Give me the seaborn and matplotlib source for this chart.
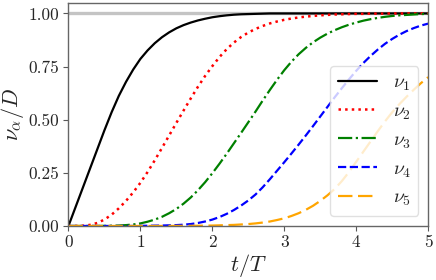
import matplotlib
matplotlib.use("Agg")
import matplotlib.pyplot as plt
import seaborn as sns
import pandas as pd

t_values = [0.0, 0.1, 0.2, 0.3, 0.4, 0.5, 0.6, 0.7, 0.8, 0.9,
            1.0, 1.1, 1.2, 1.3, 1.4, 1.5, 1.6, 1.7, 1.8, 1.9,
            2.0, 2.1, 2.2, 2.3, 2.4, 2.5, 2.6, 2.7, 2.8, 2.9,
            3.0, 3.1, 3.2, 3.3, 3.4, 3.5, 3.6, 3.7, 3.8, 3.9,
            4.0, 4.1, 4.2, 4.3, 4.4, 4.5, 4.6, 4.7, 4.8, 4.9, 5.0]
nu1 = [0.0, 0.09, 0.18, 0.27, 0.36, 0.45, 0.535, 0.612, 0.678, 0.736,
       0.786, 0.826, 0.86, 0.888, 0.911, 0.93, 0.945, 0.957, 0.967, 0.975,
       0.982, 0.987, 0.991, 0.994, 0.996, 0.997, 0.998, 0.999, 1.0, 1.0,
       1.0, 1.0, 1.0, 1.0, 1.0, 1.0, 1.0, 1.0, 1.0, 1.0,
       1.0, 1.0, 1.0, 1.0, 1.0, 1.0, 1.0, 1.0, 1.0, 1.0, 1.0]
nu2 = [0.0, 0.0, 0.001, 0.005, 0.014, 0.03, 0.053, 0.083, 0.118, 0.158,
       0.203, 0.254, 0.309, 0.367, 0.426, 0.485, 0.543, 0.6, 0.655, 0.706,
       0.752, 0.795, 0.832, 0.863, 0.889, 0.91, 0.927, 0.941, 0.953, 0.962,
       0.97, 0.976, 0.981, 0.985, 0.988, 0.991, 0.993, 0.995, 0.996, 0.997,
       0.998, 0.998, 0.999, 0.999, 0.999, 1.0, 1.0, 1.0, 1.0, 1.0, 1.0]
nu3 = [0.0, 0.0, 0.0, 0.0, 0.0, 0.0005, 0.001, 0.002, 0.004, 0.007,
       0.012, 0.02, 0.03, 0.043, 0.06, 0.08, 0.105, 0.134, 0.168, 0.206,
       0.248, 0.293, 0.34, 0.389, 0.438, 0.488, 0.538, 0.59, 0.64, 0.688,
       0.733, 0.773, 0.808, 0.838, 0.864, 0.886, 0.905, 0.921, 0.935, 0.947,
       0.957, 0.966, 0.973, 0.979, 0.984, 0.988, 0.991, 0.993, 0.995, 0.997,
       0.998]
nu4 = [0.0, 0.0, 0.0, 0.0, 0.0, 0.0, 0.0, 0.0, 0.0, 0.0,
       0.0005, 0.001, 0.0015, 0.002, 0.003, 0.004, 0.006, 0.009, 0.014, 0.021,
       0.03, 0.042, 0.057, 0.075, 0.096, 0.12, 0.148, 0.182, 0.22, 0.26,
       0.3, 0.341, 0.383, 0.426, 0.47, 0.515, 0.56, 0.605, 0.648, 0.69,
       0.73, 0.767, 0.8, 0.83, 0.857, 0.88, 0.9, 0.917, 0.931, 0.943, 0.952]
nu5 = [0.0, 0.0, 0.0, 0.0, 0.0, 0.0, 0.0, 0.0, 0.0, 0.0,
       0.0, 0.0, 0.0, 0.0, 0.0, 0.0003, 0.0005, 0.0008, 0.001, 0.0015,
       0.002, 0.003, 0.004, 0.005, 0.007, 0.009, 0.012, 0.016, 0.021, 0.028,
       0.036, 0.047, 0.06, 0.076, 0.095, 0.118, 0.144, 0.174, 0.211, 0.254,
       0.302, 0.35, 0.398, 0.446, 0.492, 0.535, 0.573, 0.608, 0.641, 0.672,
       0.70]
series_labels = [r"$\nu_1$", r"$\nu_2$", r"$\nu_3$", r"$\nu_4$", r"$\nu_5$"]
saturation_level = 1.0
x_ticks = [0, 1, 2, 3, 4, 5]
y_ticks = [0.0, 0.25, 0.5, 0.75, 1.0]
y_ticklabels = ["0.00", "0.25", "0.50", "0.75", "1.00"]

# ---- styling ----
sns.set_theme(style="ticks")
plt.rcParams["font.family"] = ["cmr10", "DejaVu Serif"]
plt.rcParams["mathtext.fontset"] = "cm"
plt.rcParams["axes.unicode_minus"] = False

colors = ["black", "red", "green", "blue", "orange"]
styles = ["-", ":", "-.", "--", (0, (6.5, 2.5))]
widths = [1.6, 1.8, 1.6, 1.6, 1.6]

fig = plt.figure(figsize=(4.36, 2.80), dpi=100)
ax = fig.add_axes([0.157, 0.193, 0.825, 0.797])

ax.axhline(saturation_level, color="#c4c4c4", lw=2.4, zorder=1)

all_series = [nu1, nu2, nu3, nu4, nu5]
for vals, lab, c, ls, lw in zip(all_series, series_labels, colors, styles, widths):
    df = pd.DataFrame({"t": t_values, "v": vals})
    sns.lineplot(data=df, x="t", y="v", ax=ax, color=c, linestyle=ls,
                 linewidth=lw, label=lab, zorder=2)

ax.set_xlim(0, 5)
ax.set_ylim(0, 1.05)
ax.set_xticks(x_ticks)
ax.set_xticklabels([str(v) for v in x_ticks])
ax.set_yticks(y_ticks)
ax.set_yticklabels(y_ticklabels)
ax.tick_params(labelsize=12.5, length=3.5, width=0.8, color="0.35", pad=3)
for s in ax.spines.values():
    s.set_color("0.4")
    s.set_linewidth(1.0)

ax.set_xlabel(r"$t/T$", fontsize=16, labelpad=1)
ax.set_ylabel(r"$\nu_\alpha/D$", fontsize=16, labelpad=2)

leg = ax.legend(loc="lower right", fontsize=14, frameon=True, framealpha=0.8,
                handlelength=2.0)
leg.get_frame().set_edgecolor("0.85")

fig.savefig("out.png", dpi=100)
